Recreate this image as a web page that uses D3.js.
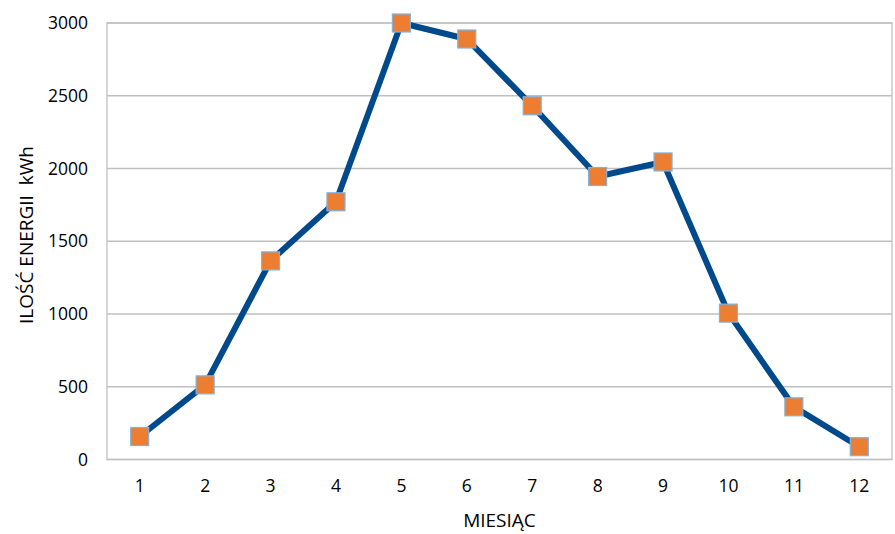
<!DOCTYPE html>
<html>
<head>
<meta charset="utf-8">
<script src="https://cdn.jsdelivr.net/npm/d3@7"></script>
<style>
  body { margin: 0; background: #fff; }
  text { font-family: "Open Sans", "Liberation Sans", sans-serif; fill: #000; }
</style>
</head>
<body>
<svg id="chart" width="895" height="534"></svg>
<script>
// data
var months = [1, 2, 3, 4, 5, 6, 7, 8, 9, 10, 11, 12];
var energy = [158, 513, 1365, 1771, 3000, 2890, 2431, 1945, 2045, 1006, 362, 88];
var yTicks = [0, 500, 1000, 1500, 2000, 2500, 3000];

var margin = { left: 107, right: 3, top: 23, bottom: 74.5 };
var W = 895, H = 534;

var svg = d3.select("#chart");

// scales
var x = d3.scaleBand()
    .domain(months)
    .range([margin.left, W - margin.right]);

var y = d3.scaleLinear()
    .domain([0, 3000])
    .range([H - margin.bottom, margin.top]);

// horizontal gridlines
svg.append("g")
    .selectAll("line")
    .data(yTicks)
    .enter()
    .append("line")
    .attr("x1", margin.left)
    .attr("x2", W - margin.right)
    .attr("y1", function(d) { return y(d); })
    .attr("y2", function(d) { return y(d); })
    .attr("stroke", "#c0c0c0")
    .attr("stroke-width", 1.3);

// plot border
svg.append("rect")
    .attr("x", margin.left)
    .attr("y", margin.top)
    .attr("width", W - margin.right - margin.left)
    .attr("height", H - margin.bottom - margin.top)
    .attr("fill", "none")
    .attr("stroke", "#c0c0c0")
    .attr("stroke-width", 1.3);

// y axis
var yAxis = d3.axisLeft(y).tickValues(yTicks).tickFormat(d3.format("d")).tickSize(0).tickPadding(19);
svg.append("g")
    .attr("transform", "translate(" + margin.left + ",0)")
    .call(yAxis)
    .call(function(g) { g.select(".domain").remove(); })
    .selectAll("text")
    .style("font-size", "17.5px");

// x axis
var xAxis = d3.axisBottom(x).tickSize(0).tickPadding(20);
svg.append("g")
    .attr("transform", "translate(0," + (H - margin.bottom) + ")")
    .call(xAxis)
    .call(function(g) { g.select(".domain").remove(); })
    .selectAll("text")
    .style("font-size", "17.5px");

// axis titles
svg.append("text")
    .attr("x", (margin.left + W - margin.right) / 2)
    .attr("y", 527)
    .attr("text-anchor", "middle")
    .style("font-size", "19px")
    .text("MIESIĄC");

svg.append("text")
    .attr("transform", "translate(33,235) rotate(-90)")
    .attr("text-anchor", "middle")
    .style("font-size", "19px")
    .attr("xml:space", "preserve")
    .text("ILOŚĆ ENERGII  kWh");

// line
var line = d3.line()
    .x(function(d, i) { return x(months[i]) + x.bandwidth() / 2; })
    .y(function(d) { return y(d); });

svg.append("path")
    .datum(energy)
    .attr("d", line)
    .attr("fill", "none")
    .attr("stroke", "#004a8c")
    .attr("stroke-width", 6)
    .attr("stroke-linejoin", "round");

// markers
var ms = 18;
svg.append("g")
    .selectAll("rect")
    .data(energy)
    .enter()
    .append("rect")
    .attr("x", function(d, i) { return x(months[i]) + x.bandwidth() / 2 - ms / 2; })
    .attr("y", function(d) { return y(d) - ms / 2; })
    .attr("width", ms)
    .attr("height", ms)
    .attr("fill", "#ed7d31")
    .attr("stroke", "#7fb2e0")
    .attr("stroke-width", 1.2);
</script>
</body>
</html>
